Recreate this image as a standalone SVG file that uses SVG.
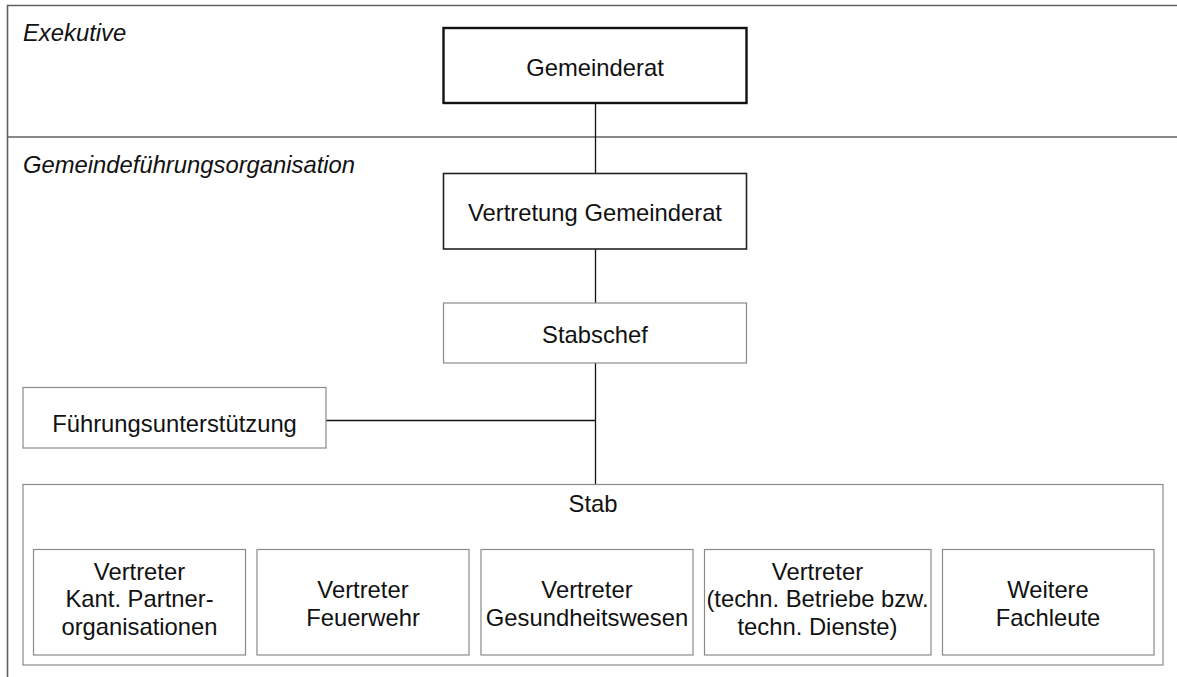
<svg xmlns="http://www.w3.org/2000/svg" width="1177" height="677" viewBox="0 0 1177 677">
<style>
text{font-family:"Liberation Sans",Arial,Helvetica,sans-serif;font-size:23.8px;fill:#111;text-anchor:middle}
.lbl{font-style:italic;text-anchor:start}
.frame{stroke:#606060;stroke-width:1.6;fill:none}
.thick{fill:#fff;stroke:#111;stroke-width:2.4}
.mid{fill:#fff;stroke:#222;stroke-width:1.6}
.thin{fill:#fff;stroke:#8a8a8a;stroke-width:1.2}
.conn{stroke:#111;stroke-width:1.3;fill:none}
</style>
<rect width="1177" height="677" fill="#fff"/>
<g id="frame">
<path class="frame" d="M1177,5.5 H7.5 V677"/>
<line class="frame" x1="7.5" y1="137" x2="1177" y2="137" stroke-width="2"/>
<text class="lbl" x="23" y="41">Exekutive</text>
<text class="lbl" x="23" y="173">Gemeindeführungsorganisation</text>
</g>
<g id="connectors">
<line class="conn" x1="595.5" y1="103" x2="595.5" y2="173"/>
<line class="conn" x1="595.5" y1="249" x2="595.5" y2="303"/>
<line class="conn" x1="595.5" y1="363" x2="595.5" y2="484"/>
<line class="conn" x1="326" y1="420.5" x2="595.5" y2="420.5"/>
</g>
<g id="gemeinderat">
<rect class="thick" x="443.5" y="28" width="303" height="75"/>
<text x="595" y="76">Gemeinderat</text>
</g>
<g id="vertretung">
<rect class="mid" x="443.5" y="173.5" width="303" height="75.5"/>
<text x="595" y="221">Vertretung Gemeinderat</text>
</g>
<g id="stabschef">
<rect class="thin" x="443.5" y="303" width="303" height="60"/>
<text x="595" y="343">Stabschef</text>
</g>
<g id="fuehrungsunterstuetzung">
<rect class="thin" x="23" y="387.5" width="303" height="60.5"/>
<text x="174.5" y="432">Führungsunterstützung</text>
</g>
<g id="stab">
<rect class="thin" x="23" y="484.5" width="1140" height="180.5"/>
<text x="593" y="512">Stab</text>
</g>
<g id="kant">
<rect class="thin" x="33.5" y="549.5" width="212" height="105.5"/>
<text x="139.5" y="579.5">Vertreter</text>
<text x="139.5" y="607">Kant. Partner-</text>
<text x="139.5" y="634.5">organisationen</text>
</g>
<g id="feuerwehr">
<rect class="thin" x="257" y="549.5" width="212" height="105.5"/>
<text x="363" y="597.5">Vertreter</text>
<text x="363" y="626">Feuerwehr</text>
</g>
<g id="gesundheit">
<rect class="thin" x="481" y="549.5" width="212" height="105.5"/>
<text x="587" y="597.5">Vertreter</text>
<text x="587" y="626">Gesundheitswesen</text>
</g>
<g id="techn">
<rect class="thin" x="704.5" y="549.5" width="226.5" height="105.5"/>
<text x="817.5" y="579.5">Vertreter</text>
<text x="817.5" y="607">(techn. Betriebe bzw.</text>
<text x="817.5" y="634.5">techn. Dienste)</text>
</g>
<g id="weitere">
<rect class="thin" x="942.5" y="549.5" width="211.5" height="105.5"/>
<text x="1048" y="597.5">Weitere</text>
<text x="1048" y="626">Fachleute</text>
</g>
</svg>
